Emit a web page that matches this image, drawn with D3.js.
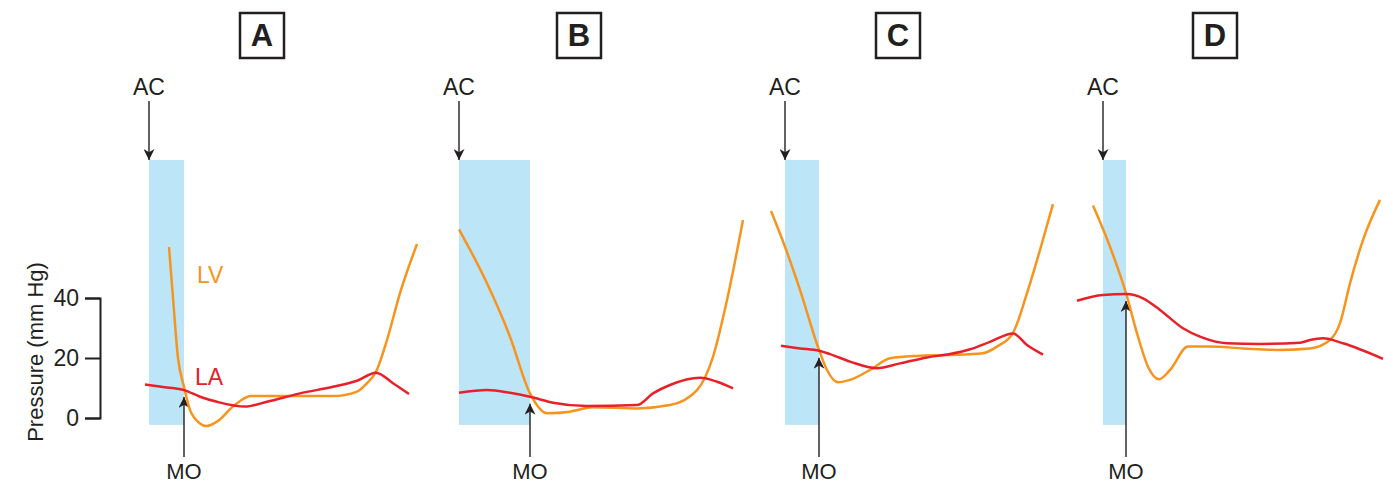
<!DOCTYPE html>
<html>
<head>
<meta charset="utf-8">
<script src="https://cdn.jsdelivr.net/npm/d3@7"></script>
<style>
  body { margin: 0; background: #fff; }
  svg { display: block; font-family: "Liberation Sans", Arial, sans-serif; }
</style>
</head>
<body>
<div id="chart"></div>
<script>
var w = 1386;
var h = 485;

// panels: letter, AC time position on page, shaded (isovolumic relaxation) length, MO crossing pressure
var panels = ["A", "B", "C", "D"];
var acPos = [149, 459, 785, 1103];
var boxOffset = [113, 120, 113, 112];
var shadeLen = [35, 71, 34, 23];
var moPressure = [9.3, 7.1, 22.4, 41.3];

// time (ms-ish units from AC) and pressure (mm Hg) for each curve
var lvTime = [
    [20, 24, 29, 35, 41, 51, 57, 68, 84, 102, 134, 184, 208, 218, 227, 238, 251, 268],
    [0, 28, 51, 71, 88, 111, 134, 178, 211, 238, 254, 268, 284],
    [-14, 0, 15, 34, 42, 53, 65, 85, 105, 132, 165, 198, 212, 228, 242, 255, 268],
    [-10, 7, 23, 35, 45, 56, 67, 85, 107, 140, 174, 207, 227, 237, 247, 260, 277]
];
var lvPressure = [
    [57, 40, 20, 10.4, 2.7, -1.8, -2.7, -1.2, 3.8, 7.3, 7.3, 7.3, 8.8, 11.6, 15.4, 26, 41.6, 58],
    [62.9, 44.9, 27.1, 8.2, 1.6, 2.1, 3.6, 3.2, 4.3, 9.3, 20.4, 39.3, 66],
    [69, 57.1, 42.7, 22.7, 16, 11.9, 12.7, 16, 19.9, 20.7, 21, 21.6, 23.8, 28.4, 41.6, 56, 71.3],
    [70.8, 57.1, 41.6, 27.1, 17.1, 12.9, 16, 23.8, 23.8, 23.2, 22.7, 23.2, 26, 31.6, 44.9, 59.3, 72.7]
];
var laTime = [
    [-4, 18, 35, 51, 68, 96, 118, 151, 184, 208, 227, 244, 260],
    [0, 28, 51, 71, 94, 128, 178, 194, 211, 241, 258, 274],
    [-4, 15, 34, 45, 65, 92, 115, 142, 165, 185, 205, 228, 242, 258],
    [-26, 0, 23, 40, 57, 80, 97, 124, 157, 197, 207, 220, 240, 280]
];
var laPressure = [
    [11.2, 10.2, 9.3, 7.1, 5.4, 3.8, 5.4, 8.2, 10.4, 12.4, 15.1, 11.6, 8],
    [8.4, 9.3, 8.4, 7.1, 5.1, 4, 4.3, 8.2, 11, 13.4, 12.1, 9.9],
    [24.1, 23.2, 22.4, 21.3, 18.8, 16.6, 18.2, 20.2, 21.3, 22.9, 25.4, 28.2, 24.3, 21.1],
    [39.1, 41, 41.3, 39.9, 36, 29.9, 27.1, 24.9, 24.7, 25.1, 26, 26.6, 24.9, 19.7]
];
var yTicks = [0, 20, 40];

var orange = "#f7941d";
var red = "#e8202a";
var blue = "#bde5f8";
var dark = "#231f20";

var svg = d3.select("#chart")
    .append("svg")
    .attr("width", w)
    .attr("height", h);

// arrow head
svg.append("defs").append("marker")
    .attr("id", "arrow")
    .attr("viewBox", "0 0 10 10")
    .attr("refX", 10)
    .attr("refY", 5)
    .attr("markerWidth", 14)
    .attr("markerHeight", 11)
    .attr("markerUnits", "userSpaceOnUse")
    .attr("orient", "auto")
    .append("path")
    .attr("d", "M0,0 L10,5 L0,10 L3,5 Z")
    .attr("fill", dark);

var yScale = d3.scaleLinear()
    .domain([0, 40])
    .range([418, 298]);

// y axis bracket
var yAxis = d3.axisLeft(yScale)
    .tickValues(yTicks)
    .tickSize(15)
    .tickSizeOuter(15)
    .tickPadding(6);

var axisG = svg.append("g")
    .attr("transform", "translate(100,0)")
    .call(yAxis);
axisG.selectAll("path, line")
    .attr("stroke", dark)
    .attr("stroke-width", 2);
axisG.selectAll("text")
    .attr("font-size", "23px")
    .attr("fill", dark)
    .attr("font-family", "Liberation Sans, Arial, sans-serif");

svg.append("text")
    .attr("transform", "translate(43,352) rotate(-90)")
    .attr("text-anchor", "middle")
    .attr("font-size", "22px")
    .attr("fill", dark)
    .text("Pressure (mm Hg)");

var line = d3.line()
    .curve(d3.curveMonotoneX);

panels.forEach(function (p, i) {
    var xScale = d3.scaleLinear()
        .domain([0, 100])
        .range([acPos[i], acPos[i] + 100]);

    var g = svg.append("g");

    // shaded isovolumic relaxation
    g.append("rect")
        .attr("x", xScale(0))
        .attr("y", yScale(86))
        .attr("width", xScale(shadeLen[i]) - xScale(0))
        .attr("height", yScale(-2.3) - yScale(86))
        .attr("fill", blue);

    // panel letter box
    var bx = xScale(boxOffset[i]);
    g.append("rect")
        .attr("x", bx - 22)
        .attr("y", 13)
        .attr("width", 44)
        .attr("height", 45)
        .attr("fill", "none")
        .attr("stroke", dark)
        .attr("stroke-width", 2.5);
    g.append("text")
        .attr("x", bx)
        .attr("y", 46)
        .attr("text-anchor", "middle")
        .attr("font-size", "31px")
        .attr("font-weight", "bold")
        .attr("fill", dark)
        .text(p);

    // AC
    g.append("text")
        .attr("x", xScale(0))
        .attr("y", 95)
        .attr("text-anchor", "middle")
        .attr("font-size", "23px")
        .attr("fill", dark)
        .text("AC");
    g.append("line")
        .attr("x1", xScale(0))
        .attr("x2", xScale(0))
        .attr("y1", 101)
        .attr("y2", 160)
        .attr("stroke", dark)
        .attr("stroke-width", 1.4)
        .attr("marker-end", "url(#arrow)");

    // MO
    var mx = xScale(shadeLen[i]);
    g.append("line")
        .attr("x1", mx)
        .attr("x2", mx)
        .attr("y1", 457)
        .attr("y2", yScale(moPressure[i]) + 7)
        .attr("stroke", dark)
        .attr("stroke-width", 1.4)
        .attr("marker-end", "url(#arrow)");
    g.append("text")
        .attr("x", mx)
        .attr("y", 479)
        .attr("text-anchor", "middle")
        .attr("font-size", "22px")
        .attr("fill", dark)
        .text("MO");

    var lv = lvTime[i].map(function (t, j) { return [xScale(t), yScale(lvPressure[i][j])]; });
    var la = laTime[i].map(function (t, j) { return [xScale(t), yScale(laPressure[i][j])]; });

    g.append("path")
        .attr("d", line(lv))
        .attr("fill", "none")
        .attr("stroke", orange)
        .attr("stroke-width", 2.5);

    g.append("path")
        .attr("d", line(la))
        .attr("fill", "none")
        .attr("stroke", red)
        .attr("stroke-width", 2.5);

    if (i == 0) {
        g.append("text")
            .attr("x", xScale(48))
            .attr("y", 283)
            .attr("font-size", "23px")
            .attr("fill", orange)
            .text("LV");
        g.append("text")
            .attr("x", xScale(46))
            .attr("y", 385)
            .attr("font-size", "23px")
            .attr("fill", red)
            .text("LA");
    }
});
</script>
</body>
</html>
